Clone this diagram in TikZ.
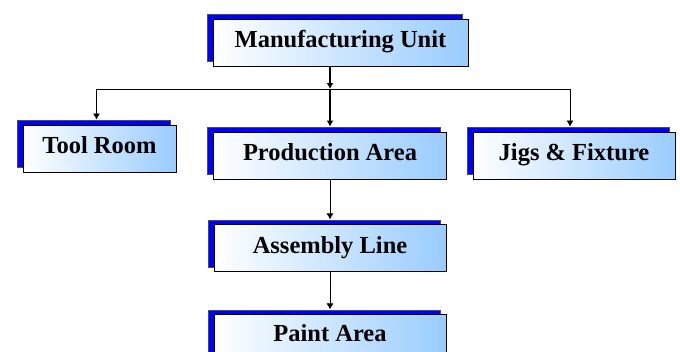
\documentclass[tikz,border=0pt]{standalone}
\usepackage{fontspec}
\setmainfont{Liberation Serif}
\usetikzlibrary{positioning, arrows.meta, shadows}
\definecolor{paleblue}{RGB}{153,204,255}
\definecolor{backblue}{RGB}{0,0,255}
\tikzset{
  unit/.style={draw=black, line width=0.9pt, left color=white, right color=paleblue,
    minimum height=47pt, inner sep=0pt, text height=17pt, text depth=7pt,
    font=\fontsize{24.5}{28}\selectfont\bfseries,
    copy shadow={shadow xshift=-6pt, shadow yshift=5pt, fill=backblue, draw=black!70, line width=0.6pt}},
  link/.style={->, line width=0.7pt, shorten >=5pt},
}
\begin{document}
\begin{tikzpicture}[>={Latex[length=6pt,width=7pt]}, x=1pt, y=-1pt]
	\useasboundingbox (0,0) rectangle (680,351);
	\node[unit, minimum width=255pt] (mu) at (340.5,42.5) {Manufacturing Unit};
	\node[unit, minimum width=153pt] (tr) at (99.5,148.5) {Tool Room};
	\node[unit, minimum width=233pt] (pa) at (330,155.5) {Production Area};
	\node[unit, minimum width=202pt] (jf) at (574,155.5) {Jigs \& Fixture};
	\node[unit, minimum width=232pt, below=45pt of pa] (al) {Assembly Line};
	\node[unit, minimum width=232pt, text depth=10pt, below=42pt of al] (pt) {Paint Area};
	\coordinate (bar) at (330,89);
	
	\draw[->, line width=1.3pt] (pa.north |- mu.south) -- (bar);
	\draw[link, line width=1.3pt] (bar) -- (pa);
	\draw[link] (bar) -| ([xshift=-3pt]tr.north);
	\draw[link] (bar) -| ([xshift=-4pt]jf.north);
	\draw[link] (pa) -- (al);
	\draw[link] (al) -- (pt);
\end{tikzpicture}
\end{document}
